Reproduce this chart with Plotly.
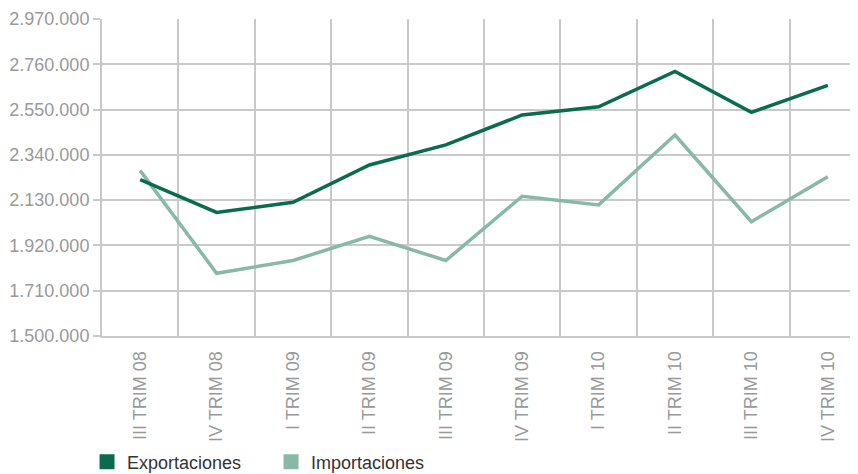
import plotly.graph_objects as go

categories = ["III TRIM 08", "IV TRIM 08", "I TRIM 09", "II TRIM 09", "III TRIM 09",
              "IV TRIM 09", "I TRIM 10", "II TRIM 10", "III TRIM 10", "IV TRIM 10"]
exportaciones = [2225000, 2073000, 2120000, 2293000, 2386000,
                 2525000, 2563000, 2727000, 2537000, 2662000]
importaciones = [2267000, 1791000, 1850000, 1962000, 1850000,
                 2148000, 2108000, 2432000, 2030000, 2239000]
y_ticks = [1500000, 1710000, 1920000, 2130000, 2340000, 2550000, 2760000, 2970000]

C_EXP = "#0b6b4f"
C_IMP = "#88b8a6"
GRID = "#c9c9c9"
FONT = "Liberation Sans, Arial, sans-serif"

fig = go.Figure()
fig.add_trace(go.Scatter(x=categories, y=importaciones, mode="lines",
                         line=dict(color=C_IMP, width=3.5), showlegend=False,
                         name="Importaciones"))
fig.add_trace(go.Scatter(x=categories, y=exportaciones, mode="lines",
                         line=dict(color=C_EXP, width=3.5), showlegend=False,
                         name="Exportaciones"))
# legend entries (square swatches)
fig.add_trace(go.Scatter(x=[None], y=[None], mode="markers", name="Exportaciones",
                         marker=dict(symbol="square", size=15, color=C_EXP)))
fig.add_trace(go.Scatter(x=[None], y=[None], mode="markers", name="Importaciones",
                         marker=dict(symbol="square", size=15, color=C_IMP)))

# the page body adds an 8px offset, so margins are reduced by 8px on left/top
fig.update_layout(
    template="none",
    width=858, height=482,
    margin=dict(l=94, r=0, t=11, b=154, pad=0),
    paper_bgcolor="white", plot_bgcolor="white",
    separators=",.",
    font=dict(family=FONT, size=18, color="#999999"),
    showlegend=True,
    legend=dict(orientation="h", x=-0.0196, xanchor="left", y=-0.3975, yanchor="middle",
                font=dict(family=FONT, size=18, color="#333333"),
                itemsizing="trace", traceorder="normal",
                entrywidth=139, entrywidthmode="pixels"),
    xaxis=dict(type="category", categoryorder="array", categoryarray=categories,
               range=[-0.5, 9.5], automargin=False,
               tickson="boundaries", showgrid=True, gridcolor=GRID, gridwidth=2,
               showline=True, linecolor=GRID, linewidth=2,
               ticks="", tickangle=-90, ticklabelstandoff=6,
               tickfont=dict(size=18, color="#999999"),
               zeroline=False, fixedrange=True),
    yaxis=dict(range=[1500000, 2970000], tickvals=y_ticks, tickformat=",d",
               automargin=False,
               showgrid=True, gridcolor=GRID, gridwidth=2,
               showline=True, linecolor=GRID, linewidth=2,
               ticks="outside", ticklen=7, tickcolor=GRID, tickwidth=2,
               tickfont=dict(size=18, color="#999999"),
               zeroline=False, fixedrange=True),
)

fig.write_html("out.html")
